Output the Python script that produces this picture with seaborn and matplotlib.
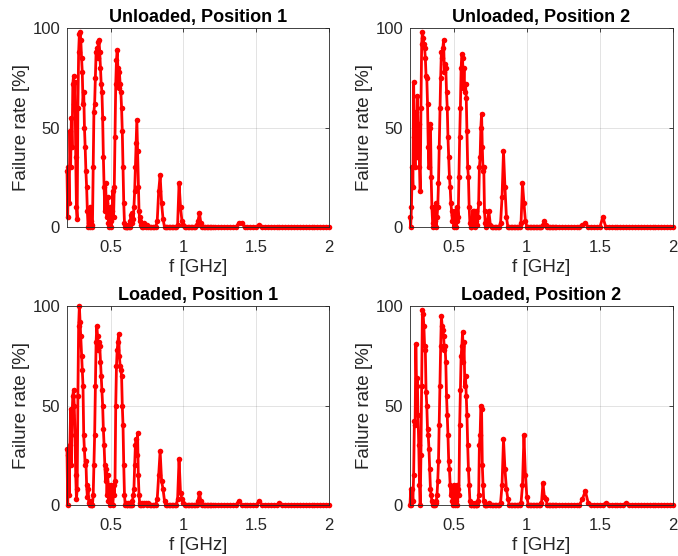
import matplotlib
matplotlib.use("Agg")
import matplotlib.pyplot as plt
import pandas as pd
import seaborn as sns

# frequency sweep [GHz]: fine steps over the resonances, coarser above 1.2 GHz
FREQ_LOW = [0.200, 0.205, 0.210, 0.215, 0.220, 0.225, 0.230, 0.235, 0.240, 0.245,
            0.250, 0.255, 0.260, 0.265, 0.270, 0.275, 0.280, 0.285, 0.290, 0.295,
            0.300, 0.305, 0.310, 0.315, 0.320, 0.325, 0.330, 0.335, 0.340, 0.345,
            0.350, 0.355, 0.360, 0.365, 0.370, 0.375, 0.380, 0.385, 0.390, 0.395,
            0.400, 0.405, 0.410, 0.415, 0.420, 0.425, 0.430, 0.435, 0.440, 0.445,
            0.450, 0.455, 0.460, 0.465, 0.470, 0.475, 0.480, 0.485, 0.490, 0.495,
            0.500, 0.505, 0.510, 0.515, 0.520, 0.525, 0.530, 0.535, 0.540, 0.545,
            0.550, 0.555, 0.560, 0.565, 0.570, 0.575, 0.580, 0.585, 0.590, 0.595,
            0.600, 0.605, 0.610, 0.615, 0.620, 0.625, 0.630, 0.635, 0.640, 0.645,
            0.650, 0.655, 0.660, 0.665, 0.670, 0.675, 0.680, 0.685, 0.690, 0.695,
            0.700, 0.705, 0.710, 0.715, 0.720]
FREQ_MID = [0.73, 0.74, 0.75, 0.76, 0.77, 0.78, 0.79,
            0.80, 0.81, 0.82, 0.83, 0.84, 0.85, 0.86, 0.87, 0.88, 0.89,
            0.90, 0.91, 0.92, 0.93, 0.94, 0.95, 0.96, 0.97, 0.98, 0.99,
            1.00, 1.01, 1.02, 1.03, 1.04, 1.05, 1.06, 1.07, 1.08, 1.09,
            1.10, 1.11, 1.12, 1.13, 1.14, 1.15, 1.16, 1.17, 1.18, 1.19,
            1.20]
FREQ_HIGH = [1.22, 1.24, 1.26, 1.28, 1.30, 1.32, 1.34, 1.36, 1.38, 1.40,
             1.42, 1.44, 1.46, 1.48, 1.50, 1.52, 1.54, 1.56, 1.58, 1.60,
             1.62, 1.64, 1.66, 1.68, 1.70, 1.72, 1.74, 1.76, 1.78, 1.80,
             1.82, 1.84, 1.86, 1.88, 1.90, 1.92, 1.94, 1.96, 1.98, 2.00]
FREQ = FREQ_LOW + FREQ_MID + FREQ_HIGH

# failure rate [%]
RATE_UNLOADED_P1 = [
    28, 5, 30, 12, 48, 30, 55, 40, 72, 76,
    62, 73, 35, 10, 4, 60, 88, 97, 98, 94,
    85, 78, 62, 68, 50, 40, 28, 20, 8, 0,
    2, 0, 10, 3, 0, 1, 30, 58, 62, 75,
    88, 90, 85, 93, 94, 88, 80, 72, 68, 55,
    35, 20, 8, 22, 12, 5, 15, 2, 0, 10,
    3, 0, 8, 18, 5, 20, 45, 72, 84, 89,
    80, 70, 78, 72, 68, 60, 48, 30, 12, 2,
    0, 0, 0, 0, 1, 0, 0, 3, 6, 2,
    7, 4, 10, 18, 30, 42, 54, 38, 20, 8,
    3, 5, 1, 0, 0,
    2, 0, 1, 0, 0, 0, 0,
    0, 0, 3, 18, 26, 12, 4, 0, 0, 0,
    0, 0, 0, 0, 0, 0, 1, 22, 10, 3,
    1, 0, 0, 0, 0, 0, 0, 0, 0, 1,
    3, 7, 2, 0, 0, 0, 0, 0, 0, 0,
    0,
    0, 0, 0, 0, 0, 0, 0, 0, 2, 2,
    0, 0, 0, 0, 0, 1, 0, 0, 0, 0,
    0, 0, 0, 0, 0, 0, 0, 0, 0, 0,
    0, 0, 0, 0, 0, 0, 0, 0, 0, 0]

RATE_UNLOADED_P2 = [
    5, 0, 10, 30, 20, 73, 45, 30, 58, 35,
    66, 48, 52, 30, 18, 60, 92, 98, 95, 92,
    90, 85, 76, 75, 62, 40, 30, 50, 52, 25,
    10, 2, 0, 10, 3, 12, 0, 5, 10, 22,
    40, 60, 75, 88, 85, 90, 94, 78, 82, 80,
    68, 60, 45, 35, 25, 20, 12, 8, 3, 6,
    0, 2, 8, 0, 3, 10, 5, 25, 45, 60,
    80, 87, 85, 70, 80, 68, 72, 65, 48, 30,
    25, 10, 2, 0, 0, 3, 8, 2, 8, 0,
    3, 8, 1, 5, 12, 30, 35, 50, 57, 40,
    28, 30, 8, 2, 0,
    3, 8, 1, 0, 0, 0, 0,
    0, 0, 2, 15, 38, 20, 5, 0, 0, 0,
    0, 0, 0, 0, 0, 0, 2, 22, 12, 3,
    0, 0, 0, 0, 0, 0, 0, 0, 0, 0,
    0, 1, 3, 1, 0, 0, 0, 0, 0, 0,
    0,
    0, 0, 0, 0, 0, 0, 0, 0, 1, 2,
    0, 0, 0, 0, 0, 5, 0, 0, 0, 0,
    0, 0, 0, 0, 0, 0, 0, 0, 0, 0,
    0, 0, 0, 0, 0, 0, 0, 0, 0, 0]

RATE_LOADED_P1 = [
    28, 0, 25, 5, 30, 48, 20, 45, 55, 58,
    50, 35, 15, 3, 8, 55, 90, 100, 92, 85,
    75, 68, 60, 35, 28, 20, 22, 10, 4, 8,
    1, 0, 2, 0, 0, 0, 5, 20, 35, 60,
    82, 90, 85, 78, 82, 80, 72, 65, 58, 50,
    38, 30, 20, 12, 18, 5, 15, 2, 10, 0,
    10, 3, 8, 0, 10, 5, 12, 50, 70, 78,
    82, 86, 75, 70, 68, 65, 50, 40, 20, 5,
    0, 1, 0, 0, 1, 0, 0, 1, 0, 0,
    2, 5, 8, 20, 30, 33, 25, 36, 15, 5,
    0, 1, 0, 1, 0,
    1, 1, 0, 1, 0, 0, 0,
    0, 0, 3, 15, 27, 12, 8, 2, 0, 0,
    0, 0, 0, 0, 0, 0, 3, 23, 6, 3,
    1, 0, 0, 0, 0, 0, 0, 0, 0, 0,
    2, 6, 2, 0, 0, 0, 0, 0, 0, 0,
    0,
    0, 0, 0, 0, 0, 0, 0, 0, 2, 0,
    0, 0, 0, 0, 0, 2, 0, 0, 0, 0,
    0, 0, 1, 0, 0, 0, 0, 0, 0, 0,
    0, 0, 0, 0, 0, 0, 0, 0, 0, 0]

RATE_LOADED_P2 = [
    0, 8, 0, 8, 2, 15, 42, 40, 81, 60,
    64, 45, 30, 10, 0, 25, 60, 98, 96, 90,
    80, 78, 57, 50, 38, 35, 28, 18, 8, 5,
    2, 1, 0, 0, 0, 1, 2, 5, 12, 22,
    40, 60, 80, 95, 90, 88, 85, 78, 80, 72,
    55, 45, 35, 22, 18, 10, 5, 8, 2, 0,
    10, 0, 8, 2, 10, 0, 8, 5, 40, 58,
    75, 80, 87, 72, 82, 60, 65, 55, 45, 30,
    18, 10, 2, 0, 0, 1, 0, 0, 0, 1,
    0, 0, 0, 2, 5, 30, 35, 50, 48, 20,
    10, 2, 0, 0, 0,
    0, 1, 0, 0, 0, 0, 0,
    0, 0, 1, 10, 33, 18, 8, 3, 0, 0,
    0, 0, 0, 0, 0, 0, 1, 10, 35, 15,
    4, 0, 0, 0, 0, 0, 0, 0, 0, 0,
    1, 11, 4, 3, 0, 0, 0, 0, 0, 0,
    0,
    0, 0, 0, 0, 0, 0, 0, 0, 3, 7,
    1, 0, 0, 0, 0, 0, 1, 0, 0, 0,
    0, 0, 0, 1, 0, 0, 0, 0, 0, 0,
    0, 0, 0, 0, 0, 0, 0, 0, 0, 0]

TITLES = ["Unloaded, Position 1", "Unloaded, Position 2",
          "Loaded, Position 1", "Loaded, Position 2"]
RATES = [RATE_UNLOADED_P1, RATE_UNLOADED_P2, RATE_LOADED_P1, RATE_LOADED_P2]
X_TICKS = [0.5, 1, 1.5, 2]
X_TICK_LABELS = ["0.5", "1", "1.5", "2"]
Y_TICKS = [0, 50, 100]

DARK = "#262626"

sns.set_theme(style="white", rc={
    "axes.edgecolor": DARK,
    "axes.linewidth": 0.6,
    "text.color": DARK,
    "axes.labelcolor": DARK,
    "xtick.color": DARK,
    "ytick.color": DARK,
})
plt.rcParams["font.family"] = ["Liberation Sans", "DejaVu Sans"]

fig = plt.figure(figsize=(6.78, 5.56), dpi=100)
positions = [
    [0.0988, 0.5917, 0.3864, 0.3579],
    [0.6047, 0.5917, 0.3879, 0.3579],
    [0.0988, 0.0917, 0.3864, 0.3579],
    [0.6047, 0.0917, 0.3879, 0.3579],
]

for pos, title, rate in zip(positions, TITLES, RATES):
    ax = fig.add_axes(pos)
    df = pd.DataFrame({"f": FREQ, "rate": rate})
    sns.lineplot(data=df, x="f", y="rate", ax=ax, color="red",
                 marker=".", markersize=8, markeredgewidth=0,
                 linewidth=2.0, estimator=None, sort=False, clip_on=False)
    ax.set_xlim(0.2, 2)
    ax.set_ylim(0, 100)
    ax.set_xticks(X_TICKS)
    ax.set_xticklabels(X_TICK_LABELS)
    ax.set_yticks(Y_TICKS)
    ax.grid(True, color=DARK, alpha=0.15, linewidth=0.6)
    ax.tick_params(direction="in", top=True, right=True, length=3, width=0.6,
                   labelsize=12)
    ax.tick_params(axis="x", pad=9)
    ax.tick_params(axis="y", pad=5)
    for s in ax.spines.values():
        s.set_visible(True)
        s.set_color(DARK)
        s.set_linewidth(0.6)
    ax.set_title(title, fontsize=13, fontweight="bold", pad=4, color="black")
    ax.set_xlabel("f [GHz]", fontsize=13.5, labelpad=3)
    ax.set_ylabel("Failure rate [%]", fontsize=13.5, labelpad=2)

fig.savefig("out.png", dpi=100)
